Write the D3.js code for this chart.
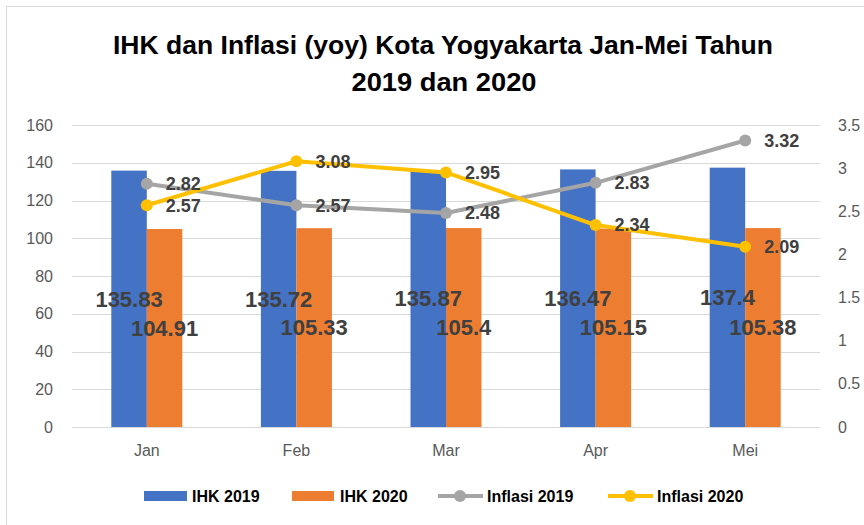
<!DOCTYPE html>
<html>
<head>
<meta charset="utf-8">
<script src="https://cdn.jsdelivr.net/npm/d3@7"></script>
<style>
  body { margin: 0; background: #fff; }
  text { font-family: "Liberation Sans", Arial, sans-serif; }
</style>
</head>
<body>
<div id="canvas"></div>
<script>
const months = ["Jan", "Feb", "Mar", "Apr", "Mei"];
const ihk2019 = [135.83, 135.72, 135.87, 136.47, 137.4];
const ihk2020 = [104.91, 105.33, 105.4, 105.15, 105.38];
const inflasi2019 = [2.82, 2.57, 2.48, 2.83, 3.32];
const inflasi2020 = [2.57, 3.08, 2.95, 2.34, 2.09];
const leftTicks = [0, 20, 40, 60, 80, 100, 120, 140, 160];
const rightTicks = [0, 0.5, 1, 1.5, 2, 2.5, 3, 3.5];

const width = 864;
const height = 525;
const margin = { top: 125, left: 72, bottom: 98, right: 44 };
const iwidth = width - margin.left - margin.right;
const iheight = height - margin.top - margin.bottom;

const svg = d3.select("#canvas").append("svg")
    .attr("width", width)
    .attr("height", height);

// chart border
svg.append("rect")
    .attr("x", 6.5).attr("y", 6.5)
    .attr("width", 870).attr("height", 540)
    .attr("fill", "none")
    .attr("stroke", "#d9d9d9");

// title
const title = svg.append("g").attr("font-weight", "bold").attr("fill", "#000").attr("font-size", 25);
title.append("text").attr("x", 443).attr("y", 54).attr("text-anchor", "middle")
    .attr("textLength", 660).attr("lengthAdjust", "spacingAndGlyphs")
    .text("IHK dan Inflasi (yoy) Kota Yogyakarta Jan-Mei Tahun");
title.append("text").attr("x", 444).attr("y", 91).attr("text-anchor", "middle")
    .attr("textLength", 185).attr("lengthAdjust", "spacingAndGlyphs")
    .text("2019 dan 2020");

const g = svg.append("g").attr("transform", `translate(${margin.left},${margin.top})`);

const x = d3.scaleBand().domain(months).range([0, iwidth]).padding(0);
const xs = d3.scaleBand().domain(["2019", "2020"]).range([x.bandwidth() / 2 - 35.5, x.bandwidth() / 2 + 35.5]);
const y = d3.scaleLinear().domain([0, 160]).range([iheight, 0]);
const y2 = d3.scaleLinear().domain([0, 3.5]).range([iheight, 0]);

// gridlines
g.append("g")
    .selectAll("line").data(leftTicks).enter().append("line")
    .attr("x1", 0).attr("x2", iwidth)
    .attr("y1", d => Math.round(y(d)) + 0.5).attr("y2", d => Math.round(y(d)) + 0.5)
    .attr("stroke", "#d9d9d9").attr("stroke-width", 1);

// left axis
const yAxis = g.append("g")
    .call(d3.axisLeft(y).tickValues(leftTicks).tickSize(0).tickPadding(19));
yAxis.select(".domain").remove();
yAxis.selectAll("text").attr("font-size", 16).attr("fill", "#595959")
    .style("font-family", "Liberation Sans, Arial, sans-serif");

// right axis
const y2Axis = g.append("g")
    .attr("transform", `translate(${iwidth},0)`)
    .call(d3.axisRight(y2).tickValues(rightTicks).tickFormat(d3.format("")).tickSize(0).tickPadding(18));
y2Axis.select(".domain").remove();
y2Axis.selectAll("text").attr("font-size", 16).attr("fill", "#595959")
    .style("font-family", "Liberation Sans, Arial, sans-serif");

// x axis
const xAxis = g.append("g")
    .attr("transform", `translate(0,${iheight})`)
    .call(d3.axisBottom(x).tickSize(0).tickPadding(18));
xAxis.select(".domain").remove();
xAxis.selectAll("text").attr("font-size", 16).attr("fill", "#595959")
    .style("font-family", "Liberation Sans, Arial, sans-serif");

// bars
const barData = months.map((m, i) => ({ m, a: ihk2019[i], b: ihk2020[i] }));
const groups = g.selectAll(".grp").data(barData).enter().append("g")
    .attr("class", "grp")
    .attr("transform", d => `translate(${x(d.m)},0)`);

groups.append("rect")
    .attr("x", xs("2019")).attr("width", xs.bandwidth())
    .attr("y", d => y(d.a)).attr("height", d => iheight - y(d.a))
    .attr("fill", "#4472c4");
groups.append("rect")
    .attr("x", xs("2020")).attr("width", xs.bandwidth())
    .attr("y", d => y(d.b)).attr("height", d => iheight - y(d.b))
    .attr("fill", "#ed7d31");

// lines
const line2019 = d3.line().x((d, i) => x(months[i]) + x.bandwidth() / 2).y(d => y2(d));
const series = [
    { vals: inflasi2019, color: "#a5a5a5" },
    { vals: inflasi2020, color: "#ffc000" }
];
series.forEach(s => {
    g.append("path").datum(s.vals)
        .attr("d", line2019)
        .attr("fill", "none")
        .attr("stroke", s.color)
        .attr("stroke-width", 4)
        .attr("stroke-linejoin", "round");
    g.selectAll(null).data(s.vals).enter().append("circle")
        .attr("cx", (d, i) => x(months[i]) + x.bandwidth() / 2)
        .attr("cy", d => y2(d))
        .attr("r", 6)
        .attr("fill", s.color);
});

// bar labels
groups.append("text")
    .attr("x", xs("2019") + xs.bandwidth() / 2)
    .attr("y", d => (y(d.a) + iheight) / 2)
    .attr("dy", "0.35em")
    .attr("text-anchor", "middle")
    .attr("font-size", 22).attr("font-weight", "bold").attr("fill", "#404040")
    .text(d => d.a);
groups.append("text")
    .attr("x", xs("2020") + xs.bandwidth() / 2)
    .attr("y", d => (y(d.b) + iheight) / 2)
    .attr("dy", "0.35em")
    .attr("text-anchor", "middle")
    .attr("font-size", 22).attr("font-weight", "bold").attr("fill", "#404040")
    .text(d => d.b);

// line labels
series.forEach(s => {
    g.selectAll(null).data(s.vals).enter().append("text")
        .attr("x", (d, i) => x(months[i]) + x.bandwidth() / 2 + 19)
        .attr("y", d => y2(d))
        .attr("dy", "0.35em")
        .attr("font-size", 18).attr("font-weight", "bold").attr("fill", "#404040")
        .text(d => d);
});

// legend
const legend = svg.append("g").attr("font-size", 16).attr("font-weight", "bold").attr("fill", "#000");
const ly = 496;
legend.append("rect").attr("x", 144).attr("y", ly - 5).attr("width", 43).attr("height", 10).attr("fill", "#4472c4");
legend.append("text").attr("x", 192).attr("y", ly).attr("dy", "0.35em").text("IHK 2019");
legend.append("rect").attr("x", 292).attr("y", ly - 5).attr("width", 42).attr("height", 10).attr("fill", "#ed7d31");
legend.append("text").attr("x", 340).attr("y", ly).attr("dy", "0.35em").text("IHK 2020");
legend.append("line").attr("x1", 438).attr("x2", 483).attr("y1", ly).attr("y2", ly).attr("stroke", "#a5a5a5").attr("stroke-width", 4);
legend.append("circle").attr("cx", 460).attr("cy", ly).attr("r", 6).attr("fill", "#a5a5a5");
legend.append("text").attr("x", 487).attr("y", ly).attr("dy", "0.35em").text("Inflasi 2019");
legend.append("line").attr("x1", 608).attr("x2", 653).attr("y1", ly).attr("y2", ly).attr("stroke", "#ffc000").attr("stroke-width", 4);
legend.append("circle").attr("cx", 630).attr("cy", ly).attr("r", 6).attr("fill", "#ffc000");
legend.append("text").attr("x", 657).attr("y", ly).attr("dy", "0.35em").text("Inflasi 2020");
</script>
</body>
</html>
